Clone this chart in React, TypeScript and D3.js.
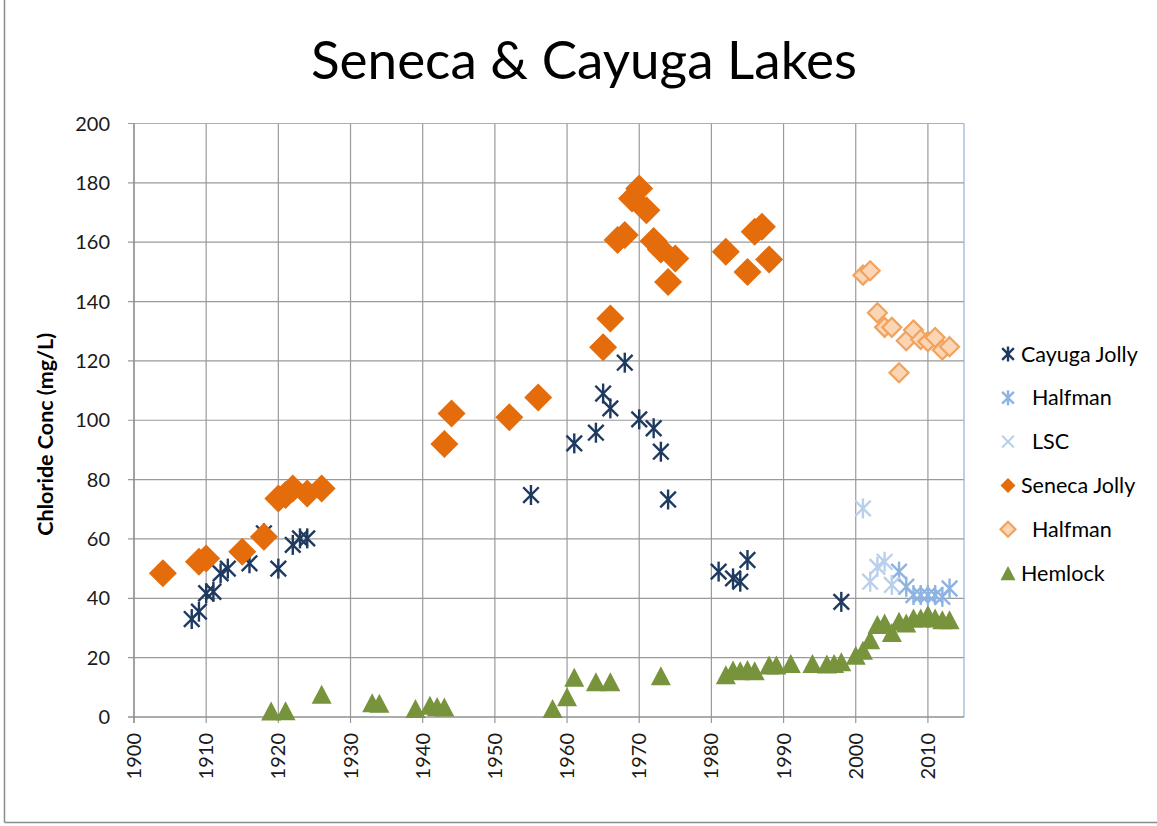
import React from 'react';
import * as d3 from 'd3';

// Cayuga Lake, Jolly record
const cayugaJollyYears = [1908, 1909, 1910, 1911, 1912, 1913, 1916, 1918, 1920, 1922, 1923, 1924, 1955, 1961, 1964, 1965, 1966, 1968, 1970, 1972, 1973, 1974, 1981, 1983, 1984, 1985, 1998];
const cayugaJollyValues = [33, 35.5, 41.7, 42.2, 48.4, 50, 51.8, 61.9, 50, 58, 60.2, 60.2, 74.8, 92.2, 95.8, 109, 104, 119.4, 100.3, 97.3, 89.4, 73.3, 49, 46.7, 45.6, 52.9, 38.8];

// Cayuga Lake, Halfman
const cayugaHalfmanYears = [2006, 2007, 2008, 2009, 2010, 2011, 2012, 2013];
const cayugaHalfmanValues = [49, 43.9, 41.1, 41.1, 41.1, 41.1, 40.5, 43.3];

// Cayuga Lake, LSC
const lscYears = [2001, 2002, 2003, 2004, 2005];
const lscValues = [70.3, 45.6, 50.6, 52.3, 44.5];

// Seneca Lake, Jolly record
const senecaJollyYears = [1904, 1909, 1910, 1915, 1918, 1920, 1921, 1922, 1924, 1926, 1943, 1944, 1952, 1956, 1965, 1966, 1967, 1968, 1969, 1970, 1971, 1972, 1973, 1974, 1975, 1982, 1985, 1986, 1987, 1988];
const senecaJollyValues = [48.4, 52.3, 53.4, 55.7, 60.7, 73.6, 74.8, 77, 75.3, 77, 92, 102.3, 101, 107.7, 124.6, 134.3, 160.7, 162.4, 174.7, 178.1, 170.8, 160.4, 157.5, 146.6, 154.5, 156.8, 150, 163.5, 165.2, 154.2];

// Seneca Lake, Halfman
const senecaHalfmanYears = [2001, 2002, 2003, 2004, 2005, 2006, 2007, 2008, 2009, 2010, 2011, 2012, 2013];
const senecaHalfmanValues = [148.9, 150.4, 136.2, 131.3, 131.3, 116, 126.8, 130.4, 127.2, 126.5, 127.9, 123.7, 124.8];

// Hemlock Lake
const hemlockYears = [1919, 1921, 1926, 1933, 1934, 1939, 1941, 1942, 1943, 1958, 1960, 1961, 1964, 1966, 1973, 1982, 1983, 1984, 1985, 1986, 1988, 1989, 1991, 1994, 1996, 1997, 1998, 2000, 2001, 2002, 2003, 2004, 2005, 2006, 2007, 2008, 2009, 2010, 2011, 2012, 2013];
const hemlockValues = [2, 2.1, 7.7, 4.8, 4.6, 2.9, 4, 3.5, 3.4, 2.9, 6.8, 13.4, 11.9, 11.9, 13.9, 14.2, 15.8, 15.6, 16, 15.6, 17.5, 17.5, 18, 18, 17.9, 18, 18.6, 20.8, 22.5, 26, 31.2, 31.7, 28.5, 32.3, 31.7, 33.4, 33.4, 34.5, 33.4, 32.8, 32.8];

const xTicks = [1900, 1910, 1920, 1930, 1940, 1950, 1960, 1970, 1980, 1990, 2000, 2010];
const yTicks = [0, 20, 40, 60, 80, 100, 120, 140, 160, 180, 200];

const FONT = 'Lato, "Open Sans", sans-serif';

type Kind = 'star' | 'x' | 'diamond' | 'diamondOpen' | 'triangle';

const series: { name: string; years: number[]; values: number[]; kind: Kind; legendKind: Kind; color: string; fill?: string; size: number }[] = [
  { name: 'Cayuga Jolly', years: cayugaJollyYears, values: cayugaJollyValues, kind: 'star', legendKind: 'star', color: '#1F3A60', size: 20 },
  { name: '  Halfman', years: cayugaHalfmanYears, values: cayugaHalfmanValues, kind: 'star', legendKind: 'star', color: '#8DB3E2', size: 20 },
  { name: '  LSC', years: lscYears, values: lscValues, kind: 'star', legendKind: 'x', color: '#B9CFEA', size: 20 },
  { name: 'Seneca Jolly', years: senecaJollyYears, values: senecaJollyValues, kind: 'diamond', legendKind: 'diamond', color: '#E46C0A', size: 28 },
  { name: '  Halfman', years: senecaHalfmanYears, values: senecaHalfmanValues, kind: 'diamondOpen', legendKind: 'diamondOpen', color: '#F0A25E', fill: '#FCD5B5', size: 19 },
  { name: 'Hemlock', years: hemlockYears, values: hemlockValues, kind: 'triangle', legendKind: 'triangle', color: '#77933C', size: 20 },
];

const Marker = ({ kind, cx, cy, size, color, fill }: { kind: Kind; cx: number; cy: number; size: number; color: string; fill?: string }) => {
  const h = size / 2;
  if (kind === 'star') {
    const d = h * 0.78;
    return (
      <g stroke={color} strokeWidth={2.4} strokeLinecap="butt">
        <line x1={cx - d} y1={cy - d} x2={cx + d} y2={cy + d} />
        <line x1={cx - d} y1={cy + d} x2={cx + d} y2={cy - d} />
        <line x1={cx} y1={cy - h} x2={cx} y2={cy + h} />
      </g>
    );
  }
  if (kind === 'x') {
    const d = h * 0.78;
    return (
      <g stroke={color} strokeWidth={2}>
        <line x1={cx - d} y1={cy - d} x2={cx + d} y2={cy + d} />
        <line x1={cx - d} y1={cy + d} x2={cx + d} y2={cy - d} />
      </g>
    );
  }
  if (kind === 'diamond' || kind === 'diamondOpen') {
    const pts = `${cx},${cy - h} ${cx + h},${cy} ${cx},${cy + h} ${cx - h},${cy}`;
    return kind === 'diamond'
      ? <polygon points={pts} fill={color} />
      : <polygon points={pts} fill={fill} stroke={color} strokeWidth={2.2} />;
  }
  const th = size * 0.95;
  const pts = `${cx},${cy - th / 2} ${cx + h},${cy + th / 2} ${cx - h},${cy + th / 2}`;
  return <polygon points={pts} fill={color} />;
};

const App = () => {
  const width = 1157;
  const height = 826;
  const plot = { left: 134, right: 964, top: 123.5, bottom: 717 };

  const x = d3.scaleLinear().domain([1900, 2015]).range([plot.left, plot.right]);
  const y = d3.scaleLinear().domain([0, 200]).range([plot.bottom, plot.top]);

  const legendX = 1008;
  const legendY0 = 354;
  const legendStep = 43.8;

  return (
    <svg width={width} height={height} style={{ position: 'absolute', left: 0, top: 0, background: '#fff' }} fontFamily={FONT}>
      <rect x={0} y={0} width={width} height={height} fill="#fff" />
      <line x1={4.5} y1={0} x2={4.5} y2={822.5} stroke="#8c8c8c" strokeWidth={1.5} />
      <line x1={4.5} y1={822.5} x2={width} y2={822.5} stroke="#8c8c8c" strokeWidth={1.5} />

      <text x={584} y={79} textAnchor="middle" fontSize={53} fill="#000">Seneca &amp; Cayuga Lakes</text>

      {/* gridlines */}
      {yTicks.map(t => (
        <line key={'gy' + t} x1={plot.left - 6} x2={plot.right} y1={y(t)} y2={y(t)} stroke="#9a9a9a" strokeWidth={1.2} />
      ))}
      {xTicks.map(t => (
        <line key={'gx' + t} x1={x(t)} x2={x(t)} y1={plot.top} y2={plot.bottom + 6} stroke="#9a9a9a" strokeWidth={1.2} />
      ))}
      <line x1={plot.left} x2={plot.right} y1={plot.top} y2={plot.top} stroke="#95B3D7" strokeWidth={1.2} />
      <line x1={plot.right} x2={plot.right} y1={plot.top} y2={plot.bottom} stroke="#95B3D7" strokeWidth={1.2} />
      <line x1={plot.left} x2={plot.left} y1={plot.top} y2={plot.bottom + 6} stroke="#8c8c8c" strokeWidth={1.2} />
      <line x1={plot.left - 6} x2={plot.right} y1={plot.bottom} y2={plot.bottom} stroke="#8c8c8c" strokeWidth={1.2} />

      {yTicks.map(t => (
        <text key={'ly' + t} x={110} y={y(t)} dy="0.35em" textAnchor="end" fontSize={20} fill="#1a1a1a">{t}</text>
      ))}
      {xTicks.map(t => (
        <text key={'lx' + t} transform={`translate(${x(t)},${plot.bottom + 16}) rotate(-90)`} dy="0.35em" textAnchor="end" fontSize={20} fill="#1a1a1a">{t}</text>
      ))}

      <text transform={`translate(53,${(plot.top + plot.bottom) / 2 + 14}) rotate(-90)`} textAnchor="middle" fontSize={21.5} fontWeight="bold" fill="#000">Chloride Conc (mg/L)</text>

      {series.map((s, i) => (
        <g key={'s' + i}>
          {s.years.map((yr, j) => (
            <Marker key={j} kind={s.kind} cx={x(yr)} cy={y(s.values[j])} size={s.size} color={s.color} fill={s.fill} />
          ))}
        </g>
      ))}

      {series.map((s, i) => (
        <g key={'lg' + i}>
          <Marker kind={s.legendKind} cx={legendX} cy={legendY0 + i * legendStep} size={15} color={s.color} fill={s.fill} />
          <text x={legendX + 13} y={legendY0 + i * legendStep} dy="0.35em" fontSize={21.5} fill="#000" style={{ whiteSpace: 'pre' }}>{s.name}</text>
        </g>
      ))}
    </svg>
  );
};

export default App;
